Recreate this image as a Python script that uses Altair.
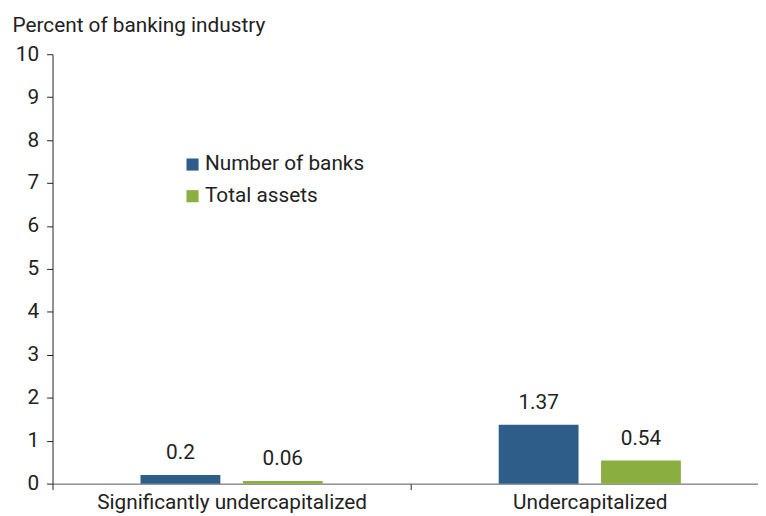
import altair as alt
import pandas as pd

categories = ["Significantly undercapitalized", "Undercapitalized"]
series = ["Number of banks", "Total assets"]
number_of_banks = [0.2, 1.37]
total_assets = [0.06, 0.54]
value_labels_banks = ["0.2", "1.37"]
value_labels_assets = ["0.06", "0.54"]
colors = ["#2e5d8a", "#8aae3f"]

rows = []
for i, c in enumerate(categories):
    rows.append({"category": c, "series": series[0], "value": number_of_banks[i], "label": value_labels_banks[i]})
    rows.append({"category": c, "series": series[1], "value": total_assets[i], "label": value_labels_assets[i]})
df = pd.DataFrame(rows)

FONT = "Roboto"
FS = 21

x = alt.X("category:N", sort=categories,
          scale=alt.Scale(domain=categories, paddingInner=0, paddingOuter=0),
          axis=alt.Axis(title=None, labelAngle=0, labelFontSize=FS, labelColor="#222222",
                        labelPadding=2, labelLimit=1000, tickBand="extent", tickSize=6,
                        tickColor="#222222", domainColor="#555555", labelFont=FONT))
xo = alt.XOffset("series:N", sort=series,
                 scale=alt.Scale(domain=series, paddingInner=0.22, paddingOuter=0.86))
y = alt.Y("value:Q",
          scale=alt.Scale(domain=[0, 10]),
          axis=alt.Axis(values=list(range(0, 11)), grid=False, tickSize=6, tickColor="#222222",
                        domainColor="#222222", labelFontSize=FS, labelColor="#222222",
                        labelPadding=8, labelFont=FONT,
                        title="Percent of banking industry", titleAngle=0, titleAlign="left",
                        titleBaseline="alphabetic", titleX=-41, titleY=-23, titleFontSize=FS,
                        titleFontWeight="normal", titleColor="#222222", titleFont=FONT))

color = alt.Color("series:N", sort=series,
                  scale=alt.Scale(domain=series, range=colors),
                  legend=alt.Legend(title=None, orient="none", legendX=131, legendY=101,
                                    symbolType="square", symbolSize=150, symbolStrokeWidth=0,
                                    labelFontSize=FS, labelFont=FONT, labelColor="#222222",
                                    rowPadding=10, labelOffset=2, labelLimit=1000))

bars = alt.Chart(df).mark_bar().encode(x=x, xOffset=xo, y=y, color=color)
text = alt.Chart(df).mark_text(dy=-12, baseline="bottom", fontSize=FS, font=FONT,
                               color="#222222").encode(x=x, xOffset=xo, y=y, text="label:N")

chart = (bars + text).properties(
    width=724, height=434, autosize="none",
    padding={"left": 45, "top": 44, "right": -11, "bottom": 30},
).configure(background="white").configure_view(stroke=None)

chart.save("out.html", embed_options={"renderer": "svg", "actions": False})
